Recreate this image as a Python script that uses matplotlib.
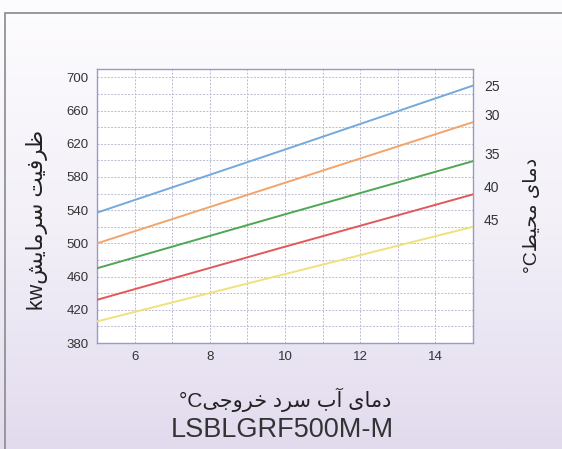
import numpy as np
import matplotlib
matplotlib.use('Agg')
import matplotlib.pyplot as plt
from matplotlib.patches import Rectangle

# cooling capacity vs leaving chilled water temperature
water_temp = [5, 10, 15]
ambient = ['25', '30', '35', '40', '45']
capacity = {
    '25': [537, 613, 690],
    '30': [500, 573, 646],
    '35': [470, 535, 599],
    '40': [432, 496, 559],
    '45': [406, 463, 520],
}
colors = ['#74a9dc', '#f2a46a', '#4fa653', '#e2585a', '#eee27a']
xticks = [6, 8, 10, 12, 14]
yticks = [380, 420, 460, 500, 540, 580, 620, 660, 700]

ylabel_fa = 'ظرفیت سرمایش'
y2label_fa = 'دمای محیط'
xlabel_fa = 'دمای آب سرد خروجی'
model = 'LSBLGRF500M-M'

# matplotlib has no arabic shaping, so do it by hand with presentation forms
FORMS = {
    'ا': ('\uFE8D', '\uFE8E', None, None),
    'آ': ('\uFE81', '\uFE82', None, None),
    'ب': ('\uFE8F', '\uFE90', '\uFE91', '\uFE92'),
    'ت': ('\uFE95', '\uFE96', '\uFE97', '\uFE98'),
    'ج': ('\uFE9D', '\uFE9E', '\uFE9F', '\uFEA0'),
    'ح': ('\uFEA1', '\uFEA2', '\uFEA3', '\uFEA4'),
    'خ': ('\uFEA5', '\uFEA6', '\uFEA7', '\uFEA8'),
    'د': ('\uFEA9', '\uFEAA', None, None),
    'ر': ('\uFEAD', '\uFEAE', None, None),
    'س': ('\uFEB1', '\uFEB2', '\uFEB3', '\uFEB4'),
    'ش': ('\uFEB5', '\uFEB6', '\uFEB7', '\uFEB8'),
    'ط': ('\uFEC1', '\uFEC2', '\uFEC3', '\uFEC4'),
    'ظ': ('\uFEC5', '\uFEC6', '\uFEC7', '\uFEC8'),
    'ف': ('\uFED1', '\uFED2', '\uFED3', '\uFED4'),
    'م': ('\uFEE1', '\uFEE2', '\uFEE3', '\uFEE4'),
    'و': ('\uFEED', '\uFEEE', None, None),
    'ی': ('\uFEEF', '\uFEF0', '\uFEF3', '\uFEF4'),
}


def shape(text):
    """shape persian letters and return them in visual order"""
    out = []
    for i, ch in enumerate(text):
        if ch not in FORMS:
            out.append(ch)
            continue
        prev = text[i - 1] if i > 0 else ''
        nxt = text[i + 1] if i + 1 < len(text) else ''
        jp = prev in FORMS and FORMS[prev][2] is not None
        jn = nxt in FORMS and FORMS[ch][2] is not None
        iso, fin, ini, med = FORMS[ch]
        if jp and jn:
            out.append(med)
        elif jp:
            out.append(fin)
        elif jn:
            out.append(ini)
        else:
            out.append(iso)
    return ''.join(out[::-1])


FAM = ['Liberation Sans', 'DejaVu Sans']
plt.rcParams['font.family'] = FAM

fig = plt.figure(figsize=(5.62, 4.49), dpi=100)

# background gradient, white at top to lavender at bottom
bg = fig.add_axes([0, 0, 1, 1], zorder=-10)
grad = np.linspace(0, 1, 256).reshape(-1, 1)
cmap = matplotlib.colors.LinearSegmentedColormap.from_list('bg', ['#fdfcfe', '#f3f0f8', '#e2dbee'])
bg.imshow(grad, aspect='auto', cmap=cmap, extent=[0, 1, 0, 1], origin='upper')
bg.add_patch(Rectangle((5 / 562, -0.1), 1.2, 1 - 13 / 449 + 0.1, transform=bg.transAxes,
                       fill=False, edgecolor='#8a8a8a', lw=1.2))
bg.set_xlim(0, 1)
bg.set_ylim(0, 1)
bg.axis('off')

ax = fig.add_axes([97 / 562, 1 - 343 / 449, 376 / 562, 274 / 449])
ax.set_facecolor('white')
for key, c in zip(ambient, colors):
    ax.plot(water_temp, capacity[key], color=c, lw=1.4, zorder=3)

ax.set_xlim(5, 15)
ax.set_ylim(380, 710)
ax.set_xticks(xticks)
ax.set_yticks(yticks)
ax.set_xticks(range(5, 16), minor=True)
ax.set_yticks(range(380, 711, 20), minor=True)
ax.tick_params(which='both', length=0, labelsize=9.5, colors='#333333', pad=6)
ax.grid(True, which='both', color='#bcbcd2', lw=0.7, linestyle=(0, (2, 1.5)))
for s in ax.spines.values():
    s.set_color('#9a9ac8')
    s.set_linewidth(1.0)

# ambient temperature labels at the right end of each line
ax2 = ax.twinx()
ax2.set_ylim(ax.get_ylim())
ends = [capacity[k][-1] for k in ambient]
ax2.set_yticks([e + (0 if i == 0 else 9) for i, e in enumerate(ends)])
ax2.set_yticklabels(ambient)
ax2.tick_params(length=0, labelsize=10, colors='#333333', pad=8)
for s in ax2.spines.values():
    s.set_visible(False)

fig.text(37 / 562, 1 - 220 / 449, 'kw' + shape(ylabel_fa), rotation=90, ha='center', va='center',
         fontsize=15.5, color='#222222', family=FAM)
fig.text(533 / 562, 1 - 215 / 449, '°C' + shape(y2label_fa), rotation=90, ha='center', va='center',
         fontsize=14, color='#222222', family=FAM)
fig.text(285 / 562, 1 - 400 / 449, '°C' + shape(xlabel_fa), ha='center', va='center',
         fontsize=15, color='#222222', family=FAM)
fig.text(282 / 562, 1 - 430 / 449, model, ha='center', va='center',
         fontsize=19.5, color='#333333', family=FAM)

fig.savefig('out.png', dpi=100)
